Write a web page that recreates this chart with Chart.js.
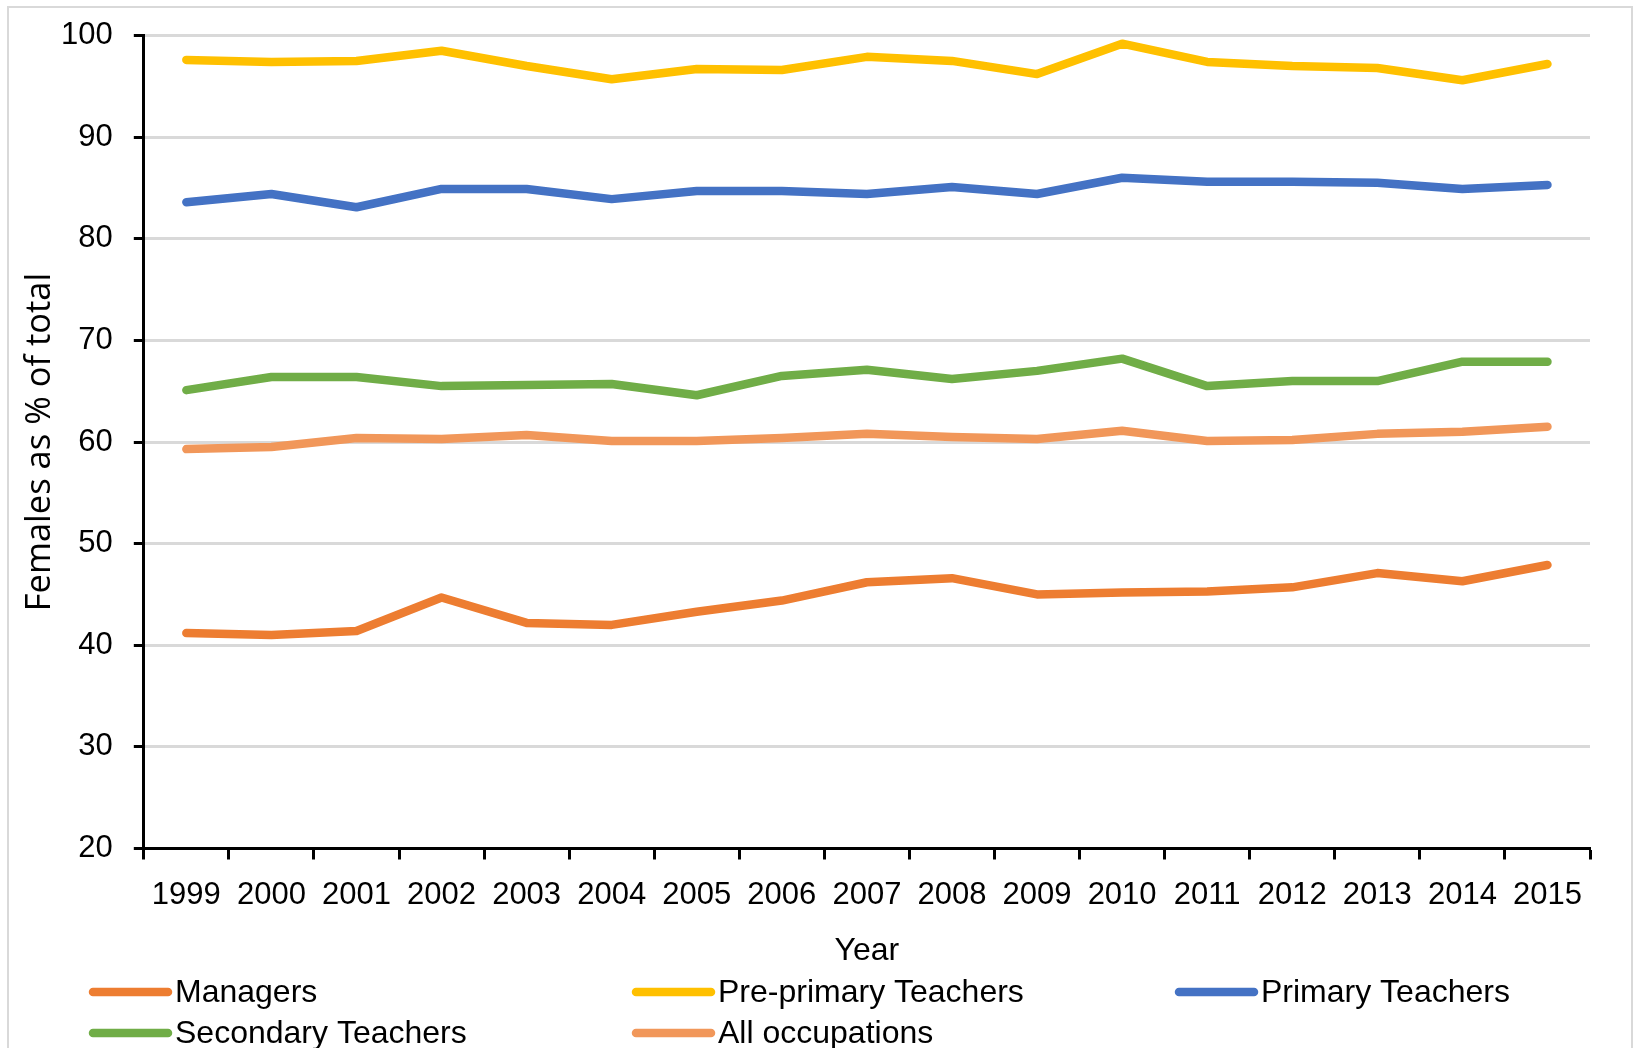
<!DOCTYPE html>
<html>
<head>
<meta charset="utf-8">
<script src="https://cdn.jsdelivr.net/npm/chart.js@4/dist/chart.umd.min.js"></script>
<style>
  html, body { margin: 0; padding: 0; background: #fff; }
  #wrap { position: relative; width: 1638px; height: 1048px; overflow: hidden; }
  #frame { position: absolute; left: 7px; top: 6px; width: 1626px; height: 1100px;
           border: 2px solid #d9d9d9; box-sizing: border-box; }
  canvas { position: absolute; left: 0; top: 0; }
</style>
</head>
<body>
<div id="wrap">
  <div id="frame"></div>
  <canvas id="chart" width="1638" height="1048"></canvas>
</div>
<script>
const years = ['1999', '2000', '2001', '2002', '2003', '2004', '2005', '2006', '2007',
  '2008', '2009', '2010', '2011', '2012', '2013', '2014', '2015'];

const managers = [41.2, 41.0, 41.4, 44.7, 42.2, 42.0, 43.3, 44.4, 46.2, 46.6, 45.0, 45.2, 45.3, 45.7, 47.1, 46.3, 47.9];
const prePrimary = [97.6, 97.4, 97.5, 98.5, 97.0, 95.7, 96.7, 96.6, 97.9, 97.5, 96.2, 99.2, 97.4, 97.0, 96.8, 95.6, 97.2];
const primary = [83.6, 84.4, 83.1, 84.9, 84.9, 83.9, 84.7, 84.7, 84.4, 85.1, 84.4, 86.0, 85.6, 85.6, 85.5, 84.9, 85.3];
const secondary = [65.1, 66.4, 66.4, 65.5, 65.6, 65.7, 64.6, 66.5, 67.1, 66.2, 67.0, 68.2, 65.5, 66.0, 66.0, 67.9, 67.9];
const allOccupations = [59.3, 59.5, 60.4, 60.3, 60.7, 60.1, 60.1, 60.4, 60.8, 60.5, 60.3, 61.1, 60.1, 60.2, 60.8, 61.0, 61.5];

const yMin = 20;
const yMax = 100;
const yStep = 10;

const tickFont = { family: 'Liberation Sans, Arial, sans-serif', size: 31 };

const line = (label, data, color) => ({
  label: label,
  data: data,
  borderColor: color,
  backgroundColor: color,
  borderWidth: 8.5,
  borderCapStyle: 'round',
  borderJoinStyle: 'round',
  pointRadius: 0,
  tension: 0,
  fill: false
});

// legend laid out in a grid like the spreadsheet one
const gridLegend = {
  id: 'gridLegend',
  afterDraw(chart) {
    const ctx = chart.ctx;
    const cols = [89, 632, 1175];
    const rows = [992, 1033];
    ctx.save();
    ctx.font = '32px Liberation Sans, Arial, sans-serif';
    ctx.textBaseline = 'middle';
    ctx.textAlign = 'left';
    chart.data.datasets.forEach((ds, i) => {
      const x = cols[i % 3];
      const y = rows[Math.floor(i / 3)];
      ctx.strokeStyle = ds.borderColor;
      ctx.lineWidth = 8.5;
      ctx.lineCap = 'round';
      ctx.beginPath();
      ctx.moveTo(x + 4, y);
      ctx.lineTo(x + 79, y);
      ctx.stroke();
      ctx.fillStyle = '#000';
      ctx.fillText(ds.label, x + 86, y + 1);
    });
    ctx.restore();
  }
};

new Chart(document.getElementById('chart'), {
  type: 'line',
  data: {
    labels: years,
    datasets: [
      line('Managers', managers, '#ED7D31'),
      line('Pre-primary Teachers', prePrimary, '#FFC000'),
      line('Primary Teachers', primary, '#4472C4'),
      line('Secondary Teachers', secondary, '#70AD47'),
      line('All occupations', allOccupations, '#F1975A')
    ]
  },
  options: {
    responsive: false,
    animation: false,
    layout: { padding: { left: 0, top: 35.5, right: 48, bottom: 69.5 } },
    plugins: {
      legend: { display: false },
      tooltip: { enabled: false }
    },
    scales: {
      x: {
        offset: true,
        grid: {
          offset: true,
          drawOnChartArea: false,
          drawTicks: true,
          tickLength: 11,
          tickWidth: 3,
          tickColor: '#000'
        },
        border: { display: true, color: '#000', width: 3 },
        ticks: { color: '#000', font: tickFont, padding: 17, maxRotation: 0, autoSkip: false },
        title: {
          display: true,
          text: 'Year',
          color: '#000',
          font: { family: 'Liberation Sans, Arial, sans-serif', size: 32 },
          padding: { top: 0, bottom: 8.3 }
        },
        afterFit(scale) { scale.height = 130; }
      },
      y: {
        min: yMin,
        max: yMax,
        grid: {
          color: '#d9d9d9',
          lineWidth: 3,
          tickLength: 10,
          tickWidth: 3,
          tickColor: '#000'
        },
        border: { display: true, color: '#000', width: 3 },
        ticks: {
          stepSize: yStep,
          color: '#000',
          font: { family: tickFont.family, size: tickFont.size, lineHeight: 0.9 },
          padding: 21
        },
        title: {
          display: true,
          text: 'Females as % of total',
          color: '#000',
          font: { family: 'Open Sans, sans-serif', size: 34.5 },
          padding: { top: 19, bottom: 0 }
        },
        afterFit(scale) { scale.width = 143.8; }
      }
    }
  },
  plugins: [gridLegend]
});
</script>
</body>
</html>
